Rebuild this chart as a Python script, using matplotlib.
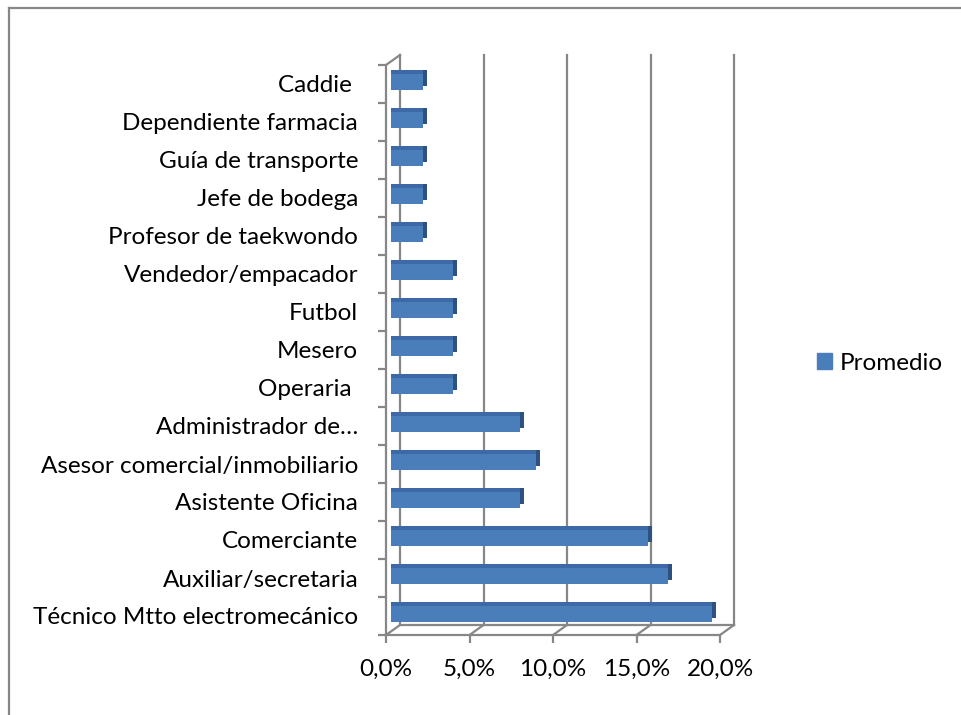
import numpy as np
import matplotlib
matplotlib.use('Agg')
import matplotlib.pyplot as plt
import matplotlib.transforms as mtransforms
from matplotlib.lines import Line2D
from matplotlib.patches import Patch

# data, bottom to top as drawn
categories = ['Técnico Mtto electromecánico', 'Auxiliar/secretaria', 'Comerciante',
              'Asistente Oficina', 'Asesor comercial/inmobiliario', 'Administrador de…',
              'Operaria ', 'Mesero', 'Futbol', 'Vendedor/empacador',
              'Profesor de taekwondo', 'Jefe de bodega', 'Guía de transporte',
              'Dependiente farmacia', 'Caddie ']
promedio = [0.192, 0.166, 0.154, 0.077, 0.087, 0.077,
            0.037, 0.037, 0.037, 0.037,
            0.019, 0.019, 0.019, 0.019, 0.019]
xticks = [0.0, 0.05, 0.10, 0.15, 0.20]
xticklabels = ['0,0%', '5,0%', '10,0%', '15,0%', '20,0%']

plt.rcParams['font.family'] = ['Lato', 'DejaVu Sans']
W, H = 961, 715
fig = plt.figure(figsize=(W / 100, H / 100), dpi=100)

# front plane of the 3d box, in pixels
x0, x1, ytop, ybot = 386, 720, 65, 635
ax = fig.add_axes([x0 / W, (H - ybot) / H, (x1 - x0) / W, (ybot - ytop) / H])
n = len(categories)
ax.set_xlim(0, 0.20)
ax.set_ylim(-0.5, n - 0.5)

grey = '#878787'
fs = 17.5
back = mtransforms.offset_copy(ax.transData, fig=fig, x=14, y=10, units='dots')
front = mtransforms.offset_copy(ax.transData, fig=fig, x=5, y=2, units='dots')
top = mtransforms.offset_copy(ax.transData, fig=fig, x=5, y=6, units='dots')
side = mtransforms.offset_copy(ax.transData, fig=fig, x=9, y=6, units='dots')

# back wall gridlines
for v in xticks:
    ax.plot([v, v], [-0.5, n - 0.5], color=grey, lw=1.6, transform=back, clip_on=False, zorder=1)
ax.plot([0, 0.20], [-0.5, -0.5], color=grey, lw=1.6, transform=back, clip_on=False, zorder=1)
# floor diagonals and left wall top diagonal
for v in xticks:
    ax.plot([v, v + 14 / 1670], [-0.5, -0.5 + 10 / 38.0], color=grey, lw=1.6, clip_on=False, zorder=1)
ax.plot([0, 14 / 1670], [n - 0.5, n - 0.5 + 10 / 38.0], color=grey, lw=1.6, clip_on=False, zorder=1)

# bars as boxes: side face, top face, front face
y = np.arange(n)
bh = 0.4
ax.barh(y, promedio, height=bh, color='#2d5282', transform=side, zorder=3)
ax.barh(y, promedio, height=bh, color='#3d6aa6', transform=top, zorder=4)
ax.barh(y, promedio, height=bh, color='#4a7ebb', transform=front, zorder=5)

for s in ['top', 'right']:
    ax.spines[s].set_visible(False)
for s in ['left', 'bottom']:
    ax.spines[s].set_color(grey)
    ax.spines[s].set_linewidth(1.6)

ax.set_xticks(xticks)
ax.set_xticklabels(xticklabels, fontsize=fs)
ax.set_yticks(y)
ax.set_yticklabels(categories, fontsize=fs)
ax.set_yticks(np.arange(-0.5, n), minor=True)
ax.tick_params(axis='y', which='major', length=0, pad=20)
ax.tick_params(axis='y', which='minor', length=6, width=1.6, color=grey)
ax.tick_params(axis='x', length=6, width=1.6, color=grey, pad=11)

fig.legend(handles=[Patch(color='#4a7ebb', label='Promedio')], loc='center left',
           bbox_to_anchor=(812 / W, 1 - 363 / H), frameon=False, fontsize=fs,
           handlelength=0.62, handleheight=0.62, handletextpad=0.33,
           borderaxespad=0, borderpad=0.2)

# chart border (top and left edges visible)
fig.add_artist(Line2D([8.5 / W, 8.5 / W], [0, 1 - 8 / H], color=grey, lw=1.6))
fig.add_artist(Line2D([8.5 / W, 1], [1 - 8 / H, 1 - 8 / H], color=grey, lw=1.6))

fig.savefig('out.png', dpi=100)
